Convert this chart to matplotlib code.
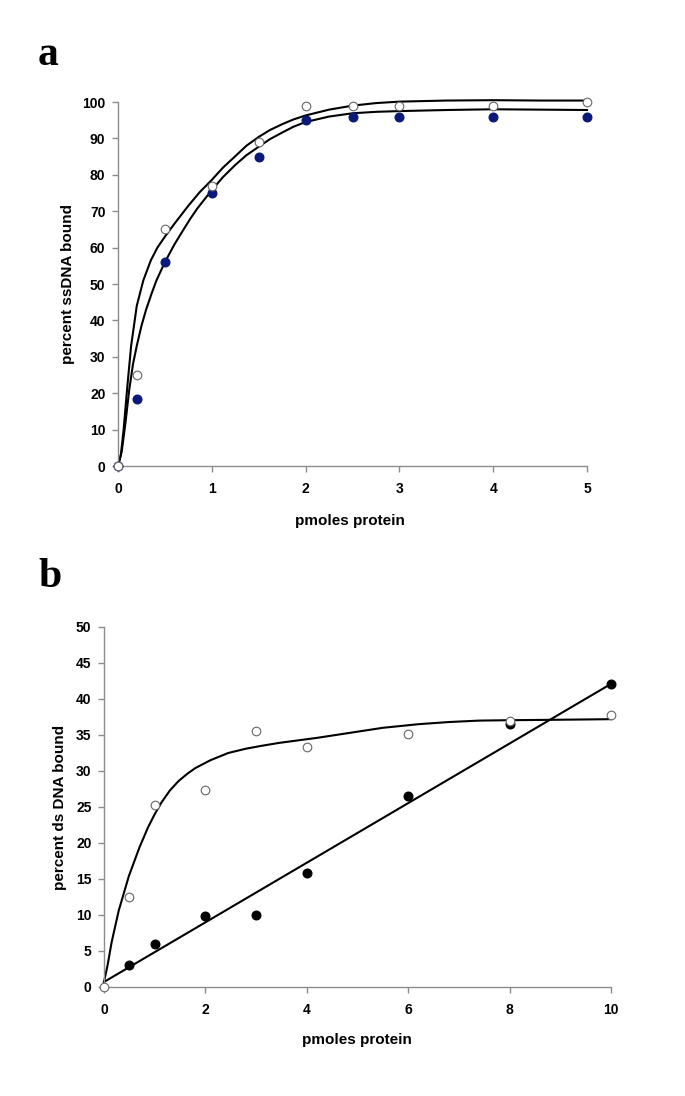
import matplotlib
matplotlib.use("Agg")
import matplotlib.pyplot as plt

plt.rcParams['font.family'] = ['Liberation Sans', 'DejaVu Sans']

# ---------------- Panel a data ----------------
a_x = [0, 0.2, 0.5, 1, 1.5, 2, 2.5, 3, 4, 5]
a_open = [0, 25, 65, 77, 89, 99, 99, 99, 99, 100]
a_filled = [0, 18.5, 56, 75, 85, 95, 96, 96, 96, 96]

a_fit_open_x = [0, 0.03, 0.06, 0.1, 0.14, 0.2, 0.27, 0.35, 0.42, 0.5, 0.6, 0.75, 0.87, 1.0,
                1.12, 1.25, 1.37, 1.5, 1.62, 1.75, 1.87, 2.0, 2.25, 2.5, 2.75, 3.0, 3.5,
                4.0, 4.5, 5.0]
a_fit_open_y = [0, 3, 10, 22, 33, 44, 51, 56.5, 60, 63, 66.5, 71.5, 75.2, 78.6,
                82, 85.1, 88, 90.4, 92.3, 93.9, 95.2, 96.3, 97.9, 99.0, 99.7, 100.1, 100.4,
                100.5, 100.4, 100.4]
a_fit_filled_x = [0, 0.04, 0.08, 0.12, 0.16, 0.2, 0.25, 0.3, 0.36, 0.41, 0.5, 0.6, 0.69,
                  0.77, 0.85, 1.0, 1.12, 1.25, 1.37, 1.5, 1.62, 1.75, 1.87, 2.0, 2.25, 2.5,
                  2.75, 3.0, 3.5, 4.0, 4.5, 5.0]
a_fit_filled_y = [0, 4, 12, 21, 28, 33, 38.5, 43, 47.5, 51, 56, 60.8, 64.6,
                  67.9, 70.9, 75.8, 79.4, 82.7, 85.4, 87.7, 89.8, 91.6, 93.2, 94.5, 96.0, 96.9,
                  97.3, 97.5, 97.8, 98, 97.9, 97.8]

a_xticks = [0, 1, 2, 3, 4, 5]
a_yticks = [0, 10, 20, 30, 40, 50, 60, 70, 80, 90, 100]

# ---------------- Panel b data ----------------
b_open_x = [0, 0.5, 1, 2, 3, 4, 6, 8, 10]
b_open_y = [0, 12.5, 25.3, 27.3, 35.6, 33.4, 35.2, 36.9, 37.8]
b_filled_x = [0.5, 1, 2, 3, 4, 6, 8, 10]
b_filled_y = [3, 6, 9.8, 10, 15.8, 26.5, 36.5, 42.1]

b_fit_open_x = [0, 0.07, 0.15, 0.29, 0.49, 0.7, 0.87, 1.0, 1.14, 1.3, 1.47, 1.64, 1.8,
                2.1, 2.45, 2.8, 3.11, 3.45, 3.77, 4.2, 4.85, 5.5, 6.2, 6.8, 7.4, 7.93,
                8.7, 9.4, 10.0]
b_fit_open_y = [0.7, 3.0, 6.2, 10.6, 15.4, 19.4, 22.2, 24.0, 25.7, 27.3, 28.6, 29.6, 30.4,
                31.5, 32.5, 33.1, 33.5, 33.9, 34.2, 34.6, 35.3, 36.0, 36.5, 36.8, 37.0, 37.05,
                37.1, 37.15, 37.2]
b_fit_line_x = [0, 10]
b_fit_line_y = [0.7, 42.1]

b_xticks = [0, 2, 4, 6, 8, 10]
b_yticks = [0, 5, 10, 15, 20, 25, 30, 35, 40, 45, 50]

NAVY = '#0b1a78'
SPINE = '#8c8c8c'

fig = plt.figure(figsize=(6.85, 10.96), dpi=100)


def style(ax):
    for s in ['top', 'right']:
        ax.spines[s].set_visible(False)
    for s in ['left', 'bottom']:
        ax.spines[s].set_color(SPINE)
        ax.spines[s].set_linewidth(1.0)
    ax.tick_params(axis='both', direction='out', length=4, width=1.0,
                   color=SPINE, labelsize=10)
    ax.tick_params(axis='x', pad=7.5)
    ax.tick_params(axis='y', pad=5)
    for lab in ax.get_xticklabels() + ax.get_yticklabels():
        lab.set_fontweight('bold')


def labels(ax, xl, yl, xc, yc):
    ax.set_xlabel(xl, fontsize=11, fontweight='bold', va='center')
    ax.set_ylabel(yl, fontsize=11, fontweight='bold', va='center')
    ax.xaxis.set_label_coords(*xc)
    ax.yaxis.set_label_coords(*yc)


# Panel a
axa = fig.add_axes([118 / 685, 1 - 466 / 1096, 469 / 685, 364 / 1096])
axa.plot(a_fit_open_x, a_fit_open_y, color='black', lw=1.5, clip_on=False, zorder=2)
axa.plot(a_fit_filled_x, a_fit_filled_y, color='black', lw=1.5, clip_on=False, zorder=2)
axa.plot(a_x, a_filled, 'o', color=NAVY, ms=6.2, mec=NAVY, clip_on=False, zorder=3)
axa.plot(a_x, a_open, 'o', mfc='white', mec='#666666', mew=0.8, ms=6.2,
         clip_on=False, zorder=4)
axa.set_xlim(0, 5)
axa.set_ylim(0, 100)
axa.set_xticks(a_xticks)
axa.set_yticks(a_yticks)
style(axa)
labels(axa, 'pmoles protein', 'percent ssDNA bound', (0.495, -0.151), (-0.107, 0.5))

# Panel b
axb = fig.add_axes([104 / 685, 1 - 987 / 1096, 507 / 685, 360 / 1096])
axb.plot(b_fit_open_x, b_fit_open_y, color='black', lw=1.5, clip_on=False, zorder=2)
axb.plot(b_fit_line_x, b_fit_line_y, color='black', lw=1.5, clip_on=False, zorder=2)
axb.plot(b_filled_x, b_filled_y, 'o', color='black', ms=6.2, clip_on=False, zorder=3)
axb.plot(b_open_x, b_open_y, 'o', mfc='white', mec='#666666', mew=0.8, ms=6.2,
         clip_on=False, zorder=4)
axb.set_xlim(0, 10)
axb.set_ylim(0, 50)
axb.set_xticks(b_xticks)
axb.set_yticks(b_yticks)
style(axb)
labels(axb, 'pmoles protein', 'percent ds DNA bound', (0.499, -0.147), (-0.087, 0.5))

fig.text(48 / 685, 1 - 55 / 1096, 'a', fontsize=30, fontweight='bold',
         family=['Liberation Serif', 'DejaVu Serif'], ha='center', va='center')
fig.text(50 / 685, 1 - 577 / 1096, 'b', fontsize=30, fontweight='bold',
         family=['Liberation Serif', 'DejaVu Serif'], ha='center', va='center')

fig.savefig('out.png', dpi=100)
